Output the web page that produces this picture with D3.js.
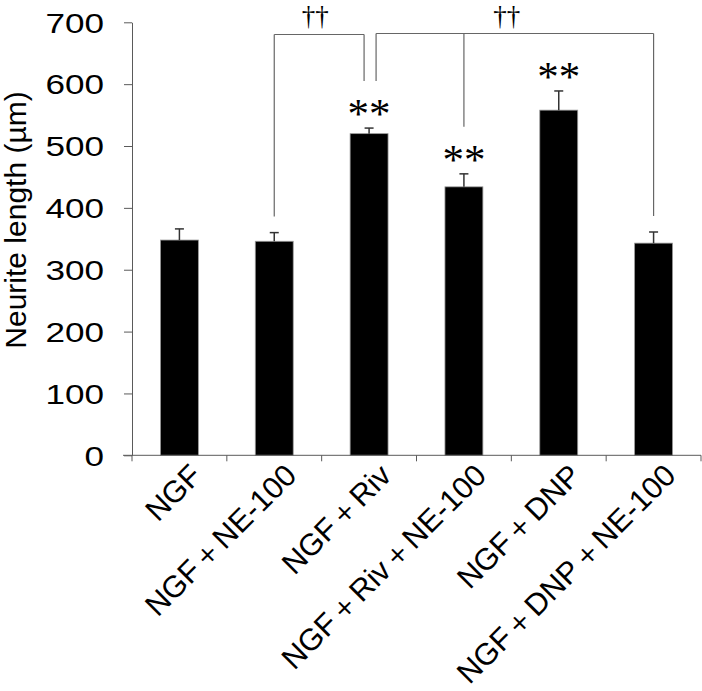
<!DOCTYPE html>
<html>
<head>
<meta charset="utf-8">
<script src="https://cdn.jsdelivr.net/npm/d3@7"></script>
<style>
  body { margin: 0; background: #fff; }
</style>
</head>
<body>
<script>
// values
const categories = ['NGF', 'NGF＋NE-100', 'NGF＋Riv', 'NGF＋Riv＋NE-100', 'NGF＋DNP', 'NGF＋DNP＋NE-100']
const means = [348, 346, 520, 434, 558, 343]
const errors = [18, 14, 9, 21, 31, 18]
const stars = ['', '', '**', '**', '**', '']
const yTicks = [0, 100, 200, 300, 400, 500, 600, 700]
const bracketFrom = [1, 2]
const bracketTo = [[2], [3, 5]]
const bracketLabels = ['††', '††']

const width = 702
const height = 691
const margin = { top: 22, right: 1, bottom: 236, left: 132 }
const sans = '"Liberation Sans", Arial, sans-serif'
const serif = '"Liberation Serif", "Times New Roman", serif'

const svg = d3.select('body')
  .append('svg')
  .attr('width', width)
  .attr('height', height)
  .style('font-family', sans)

const x = d3.scaleBand()
  .domain(categories)
  .range([margin.left, width - margin.right])
  .paddingInner(0.6)
  .paddingOuter(0.3)

const y = d3.scaleLinear()
  .domain([0, 700])
  .range([height - margin.bottom + 0.3, margin.top + 0.3])

const axisColor = '#5a5a5a'
const cx = d => x(d) + x.bandwidth() / 2

// y axis
const yAxis = svg.append('g')
  .attr('transform', `translate(${margin.left},0)`)
  .call(d3.axisLeft(y).tickValues(yTicks).tickSize(8).tickPadding(20).tickSizeOuter(0))
yAxis.select('.domain').attr('stroke', axisColor)
yAxis.selectAll('.tick line').attr('stroke', axisColor)
yAxis.selectAll('.tick text')
  .attr('x', 0)
  .attr('transform', 'translate(-28,0) scale(1.3,1)')
  .attr('font-family', sans)
  .attr('font-size', 27)
  .attr('fill', '#000')
  .attr('dy', '0.36em')

// bars
svg.append('g')
  .selectAll('rect')
  .data(categories)
  .enter()
  .append('rect')
  .attr('x', d => x(d))
  .attr('y', (d, i) => y(means[i]))
  .attr('width', x.bandwidth())
  .attr('height', (d, i) => y(0) - y(means[i]))
  .attr('fill', '#000')
  .attr('stroke', '#9a9a9a')
  .attr('stroke-width', 0.8)

// error bars (upper only)
const errG = svg.append('g')
  .attr('stroke', '#333')
  .attr('stroke-width', 1.5)
categories.forEach((c, i) => {
  errG.append('line')
    .attr('x1', cx(c)).attr('x2', cx(c))
    .attr('y1', y(means[i])).attr('y2', y(means[i] + errors[i]))
  errG.append('line')
    .attr('x1', cx(c) - 4.5).attr('x2', cx(c) + 4.5)
    .attr('y1', y(means[i] + errors[i])).attr('y2', y(means[i] + errors[i]))
})

// significance stars
svg.append('g')
  .selectAll('text')
  .data(categories)
  .enter()
  .append('text')
  .attr('x', d => cx(d))
  .attr('y', (d, i) => y(means[i] + errors[i]))
  .attr('text-anchor', 'middle')
  .attr('font-family', serif)
  .attr('font-size', 43)
  .text((d, i) => stars[i])

// x axis
const xAxis = svg.append('g')
  .attr('transform', `translate(0,${y(0)})`)
xAxis.append('line')
  .attr('x1', margin.left - 9).attr('x2', width - margin.right)
  .attr('stroke', axisColor)
const xTickPos = categories.map(c => x(c) - x.step() * x.paddingInner() / 2)
xTickPos.push(width - margin.right)
xAxis.selectAll('.xtick')
  .data(xTickPos)
  .enter()
  .append('line')
  .attr('x1', d => d).attr('x2', d => d)
  .attr('y1', 0).attr('y2', 6)
  .attr('stroke', axisColor)
xAxis.selectAll('.xlabel')
  .data(categories)
  .enter()
  .append('text')
  .attr('transform', d => `translate(${cx(d) + 24},${22}) rotate(-45)`)
  .attr('text-anchor', 'end')
  .attr('font-size', 30.5)
  .attr('fill', '#000')
  .text(d => d)

// brackets
const legTop = (i) => y(means[i] + errors[i]) - (stars[i] ? 47 : 16)
const bracketY = [34.5, 33.5]
const legShift = [[0, -5], [7, 0, 0]]
const bG = svg.append('g')
  .attr('fill', 'none')
  .attr('stroke', '#666')
  .attr('stroke-width', 1.2)
bracketFrom.forEach((f, k) => {
  const idx = [f].concat(bracketTo[k])
  const xs = idx.map((i, j) => cx(categories[i]) + legShift[k][j])
  const by = bracketY[k]
  const x0 = d3.min(xs)
  const x1 = d3.max(xs)
  bG.append('line').attr('x1', x0).attr('x2', x1).attr('y1', by).attr('y2', by)
  idx.forEach((i, j) => {
    bG.append('line')
      .attr('x1', xs[j]).attr('x2', xs[j])
      .attr('y1', by).attr('y2', legTop(i))
  })
  svg.append('text')
    .attr('x', (x0 + x1) / 2 - (k === 0 ? 4 : 8))
    .attr('y', 25)
    .attr('text-anchor', 'middle')
    .attr('font-family', serif)
    .attr('font-size', 27)
    .text(bracketLabels[k])
})

// y title
svg.append('text')
  .attr('transform', `translate(26,220) rotate(-90)`)
  .attr('text-anchor', 'middle')
  .attr('font-size', 30)
  .attr('fill', '#000')
  .text('Neurite length (µm)')
</script>
</body>
</html>
